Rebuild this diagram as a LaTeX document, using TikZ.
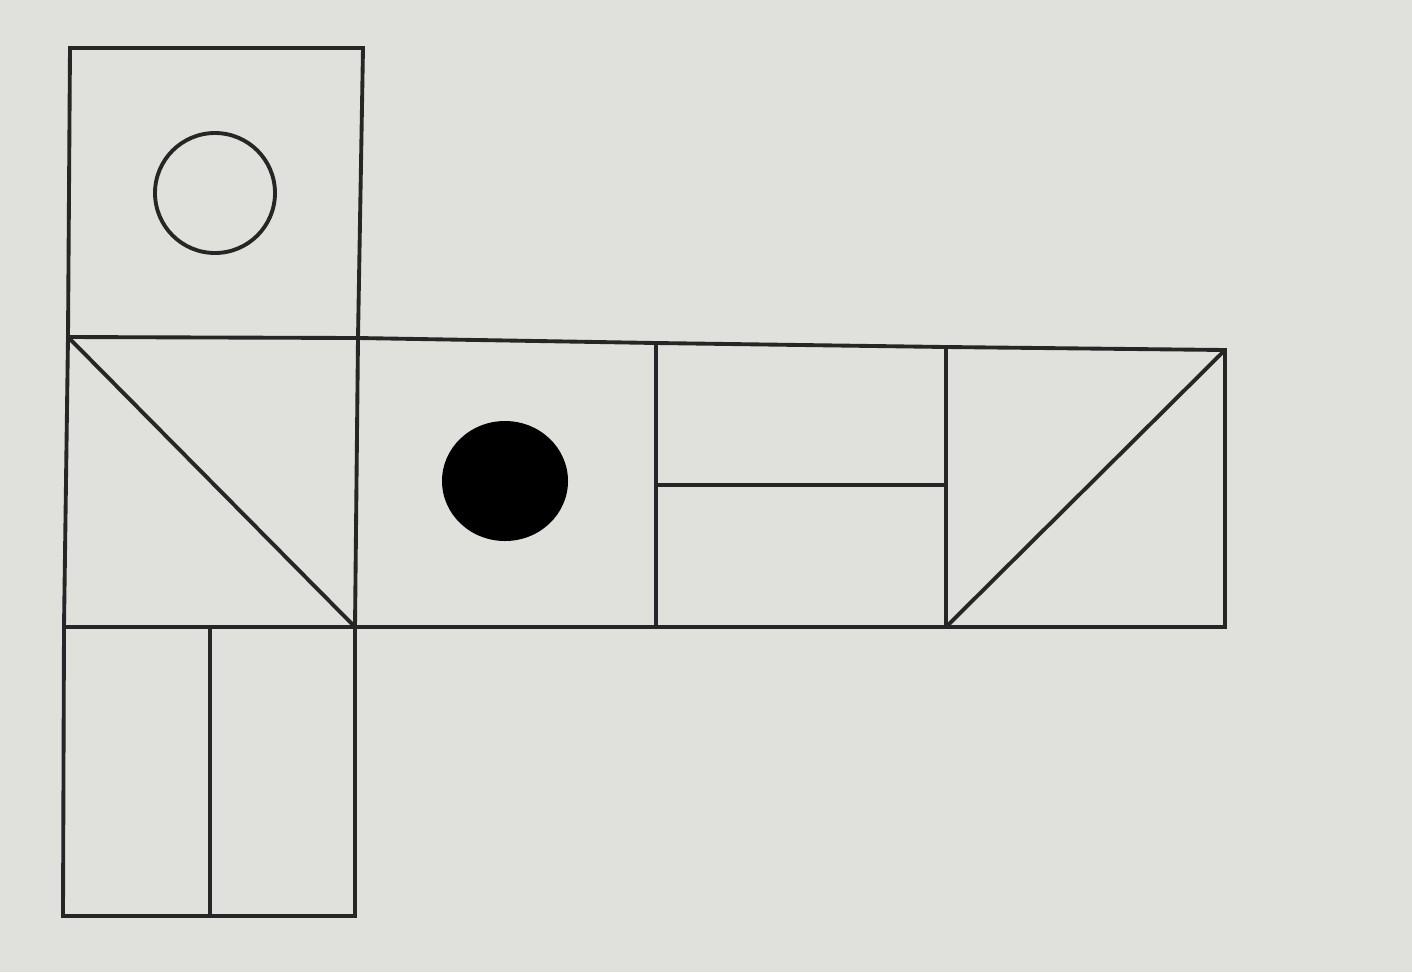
\documentclass[tikz,border=0pt]{standalone}
\usetikzlibrary{positioning}
\definecolor{paper}{RGB}{224,224,220}
\definecolor{ink}{RGB}{38,38,38}

\begin{document}
\begin{tikzpicture}[x=0.01cm,y=-0.01cm,face/.style={draw=ink,line width=1.1pt,line join=miter},dot/.style={fill=black}]

                \fill[paper] (0,0) rectangle (1412,972);
                \useasboundingbox (0,0) rectangle (1412,972);

                % corners of the net
                \coordinate (a0) at (70,48);   \coordinate (a1) at (363,48);
                \coordinate (b0) at (68,337);  \coordinate (b1) at (358,338);
                \coordinate (b2) at (656,343); \coordinate (b3) at (946,347);
                \coordinate (b4) at (1225,350);
                \coordinate (c0) at (64,627);  \coordinate (c1) at (355,627);
                \coordinate (c2) at (656,627); \coordinate (c3) at (946,627);
                \coordinate (c4) at (1225,627);
                \coordinate (d0) at (63,916);  \coordinate (d1) at (355,916);

                % faces
                \draw[face] (b0) -- (a0) -- (a1) -- (b1);
                \draw[face] (b0) -- (b1) -- (b2) -- (b3) -- (b4) -- (c4) -- (c3) -- (c2) -- (c1) -- (c0) -- cycle;
                \draw[face] (c0) -- (d0) -- (d1) -- (c1);
                \draw[face] (b1) -- (c1)  (b2) -- (c2)  (b3) -- (c3);

                % marks on the faces
                \draw[face] (215,193) circle [radius=60];
                \fill[dot] (505,481) ellipse [x radius=63, y radius=60];
                \draw[face] (b0) -- (c1);
                \draw[face] (656,485) -- (946,485);
                \draw[face] (c3) -- (b4);
                \draw[face] (210,627) -- (210,916);

            \end{tikzpicture}
\end{document}
